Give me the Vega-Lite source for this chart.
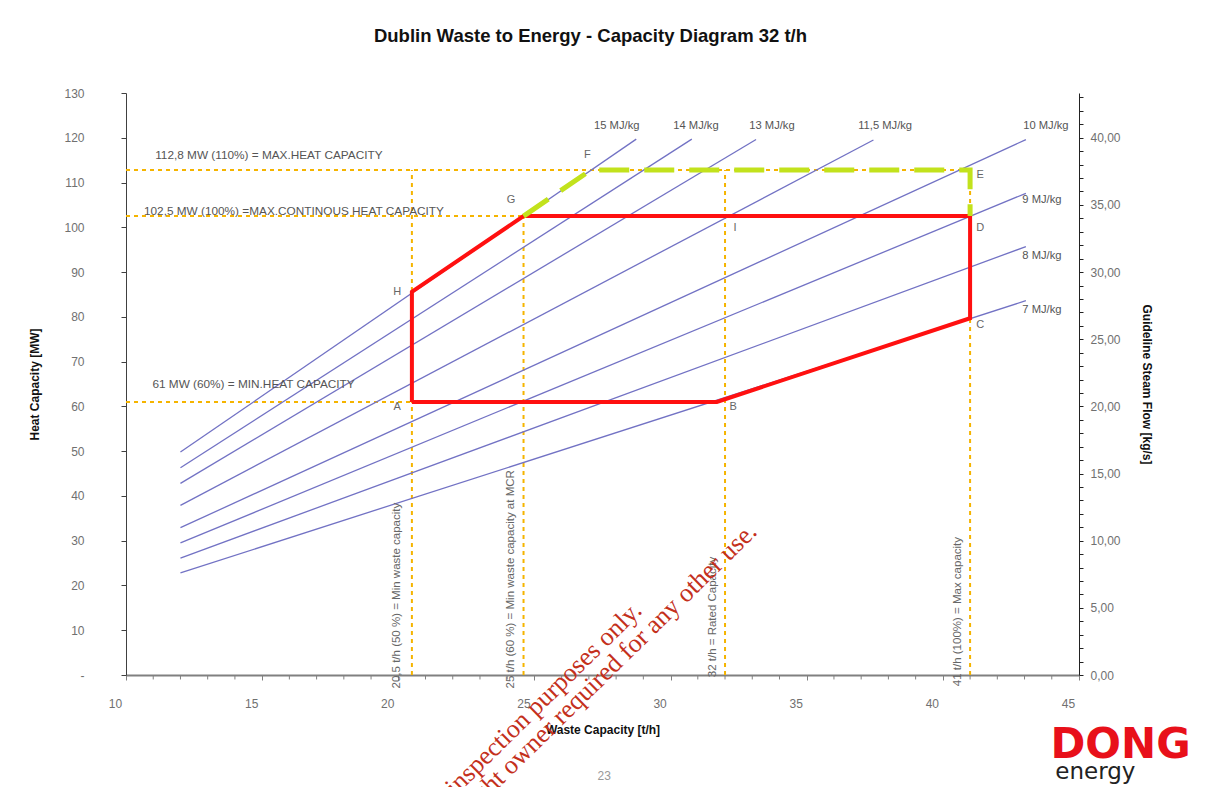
{
  "$schema": "https://vega.github.io/schema/vega-lite/v6.json",
  "width": 953,
  "height": 582,
  "autosize": {"type": "none"},
  "padding": {"left": 126, "top": 93, "right": 144, "bottom": 112},
  "background": "white",
  "title": {"text": "Dublin Waste to Energy - Capacity Diagram 32 t/h", "font": "Liberation Sans", "fontSize": 18.5, "fontWeight": "bold", "color": "#111111", "offset": 42, "dx": -12},
  "config": {"view": {"stroke": null}, "font": "Liberation Sans", "axis": {"labelOverlap": false, "labelFlush": false, "grid": false}},
  "datasets": {
    "guides": [
      {"waste": 10, "waste_end": 41, "heat": 112.8, "heat_end": 112.8},
      {"waste": 10, "waste_end": 24.6, "heat": 102.5, "heat_end": 102.5},
      {"waste": 10, "waste_end": 20.5, "heat": 61, "heat_end": 61},
      {"waste": 20.5, "waste_end": 20.5, "heat": 0, "heat_end": 112.8},
      {"waste": 24.6, "waste_end": 24.6, "heat": 0, "heat_end": 102.5},
      {"waste": 32, "waste_end": 32, "heat": 0, "heat_end": 112.8},
      {"waste": 41, "waste_end": 41, "heat": 0, "heat_end": 112.8}
    ],
    "minorticks": [
      {"waste": 11}, {"waste": 12}, {"waste": 13}, {"waste": 14}, {"waste": 16}, {"waste": 17}, {"waste": 18}, {"waste": 19},
      {"waste": 21}, {"waste": 22}, {"waste": 23}, {"waste": 24}, {"waste": 26}, {"waste": 27}, {"waste": 28}, {"waste": 29},
      {"waste": 31}, {"waste": 32}, {"waste": 33}, {"waste": 34}, {"waste": 36}, {"waste": 37}, {"waste": 38}, {"waste": 39},
      {"waste": 41}, {"waste": 42}, {"waste": 43}, {"waste": 44}
    ],
    "cv": [
      {"lhv": "15 MJ/kg", "waste": 12.0, "heat": 49.8},
      {"lhv": "15 MJ/kg", "waste": 28.74, "heat": 119.7},
      {"lhv": "14 MJ/kg", "waste": 12.0, "heat": 46.3},
      {"lhv": "14 MJ/kg", "waste": 30.78, "heat": 119.7},
      {"lhv": "13 MJ/kg", "waste": 12.0, "heat": 42.8},
      {"lhv": "13 MJ/kg", "waste": 33.14, "heat": 119.6},
      {"lhv": "11,5 MJ/kg", "waste": 12.0, "heat": 37.9},
      {"lhv": "11,5 MJ/kg", "waste": 37.45, "heat": 119.5},
      {"lhv": "10 MJ/kg", "waste": 12.0, "heat": 32.9},
      {"lhv": "10 MJ/kg", "waste": 43.05, "heat": 119.6},
      {"lhv": "9 MJ/kg", "waste": 12.0, "heat": 29.5},
      {"lhv": "9 MJ/kg", "waste": 43.05, "heat": 107.6},
      {"lhv": "8 MJ/kg", "waste": 12.0, "heat": 26.1},
      {"lhv": "8 MJ/kg", "waste": 43.05, "heat": 95.7},
      {"lhv": "7 MJ/kg", "waste": 12.0, "heat": 22.8},
      {"lhv": "7 MJ/kg", "waste": 43.05, "heat": 83.6}
    ],
    "cvlabels": [
      {"label": "15 MJ/kg", "waste": 27.19, "heat": 122.6},
      {"label": "14 MJ/kg", "waste": 30.1, "heat": 122.6},
      {"label": "13 MJ/kg", "waste": 32.89, "heat": 122.6},
      {"label": "11,5 MJ/kg", "waste": 36.89, "heat": 122.6},
      {"label": "10 MJ/kg", "waste": 42.95, "heat": 122.6},
      {"label": "9  MJ/kg", "waste": 42.92, "heat": 106.0},
      {"label": "8  MJ/kg", "waste": 42.92, "heat": 93.5},
      {"label": "7  MJ/kg", "waste": 42.92, "heat": 81.5}
    ],
    "envelope": [
      {"seq": 1, "waste": 20.5, "heat": 61},
      {"seq": 2, "waste": 20.5, "heat": 85.6},
      {"seq": 3, "waste": 24.6, "heat": 102.5},
      {"seq": 4, "waste": 41, "heat": 102.5},
      {"seq": 5, "waste": 41, "heat": 79.7},
      {"seq": 6, "waste": 31.7, "heat": 61},
      {"seq": 7, "waste": 20.5, "heat": 61}
    ],
    "overload": [
      {"seq": 1, "waste": 24.6, "heat": 102.5},
      {"seq": 2, "waste": 27.07, "heat": 112.8},
      {"seq": 3, "waste": 41, "heat": 112.8},
      {"seq": 4, "waste": 41, "heat": 102.5}
    ],
    "points": [
      {"label": "A", "waste": 19.96, "heat": 59.8},
      {"label": "B", "waste": 32.3, "heat": 59.8},
      {"label": "C", "waste": 41.37, "heat": 78.1},
      {"label": "D", "waste": 41.37, "heat": 99.8},
      {"label": "E", "waste": 41.37, "heat": 111.6},
      {"label": "F", "waste": 26.94, "heat": 116.1},
      {"label": "G", "waste": 24.14, "heat": 106.05},
      {"label": "H", "waste": 19.96, "heat": 85.5},
      {"label": "I", "waste": 32.37, "heat": 99.8}
    ],
    "hnotes": [
      {"text": "112,8 MW (110%)  = MAX.HEAT CAPACITY", "waste": 11.07, "heat": 116.1},
      {"text": "102,5 MW (100%) =MAX.CONTINOUS HEAT CAPACITY", "waste": 10.66, "heat": 103.7},
      {"text": "61 MW (60%)  = MIN.HEAT CAPACITY", "waste": 10.97, "heat": 65.0}
    ],
    "vnotes": [
      {"text": "20,5 t/h (50 %) = Min waste capacity", "waste": 19.96, "heat": -3.0},
      {"text": "25 t/h (60 %) = Min waste capacity at MCR", "waste": 24.15, "heat": -3.0},
      {"text": "32 t/h = Rated Capacity", "waste": 31.55, "heat": -0.5},
      {"text": "41 t/h (100%) = Max capacity", "waste": 40.55, "heat": -2.5}
    ],
    "watermark": [
      {"text": "For inspection purposes only.", "waste": 28.99, "heat": 14.07},
      {"text": "Consent of copyright owner required for any other use.", "waste": 33.22, "heat": 31.7}
    ],
    "page": [{"text": "23", "waste": 27.56, "heat": -22.5}],
    "logo1": [{"text": "DONG", "waste": 43.95, "heat": -18.5}],
    "logo2": [{"text": "energy", "waste": 44.13, "heat": -23.2}]
  },
  "layer": [
    {
      "layer": [
        {
          "data": {"name": "guides"},
          "mark": {"type": "rule", "color": "#f5b400", "strokeWidth": 2, "strokeDash": [4, 4]},
          "encoding": {
            "x": {"field": "waste", "type": "quantitative", "scale": {"domain": [10, 45], "nice": false, "zero": false},
              "axis": {"title": "Waste Capacity [t/h]", "values": [10, 15, 20, 25, 30, 35, 40, 45],
                "format": "d", "labelFont": "Liberation Sans", "labelFontSize": 12, "labelColor": "#707070", "labelPadding": 18, "labelOffset": -11,
                "tickSize": 5, "tickColor": "#808080", "domainColor": "#808080", "domainWidth": 2, "titleFont": "Liberation Sans", "titleFontSize": 12, "titleFontWeight": "bold", "titleColor": "#111111", "titlePadding": 15, "grid": false, "labelOverlap": false, "labelFlush": false}},
            "x2": {"field": "waste_end"},
            "y": {"field": "heat", "type": "quantitative", "scale": {"domain": [0, 130], "nice": false},
              "axis": {"title": "Heat Capacity [MW]", "values": [0,5,10,15,20,25,30,35,40,45,50,55,60,65,70,75,80,85,90,95,100,105,110,115,120,125,130],
                "labelExpr": "datum.value === 0 ? '-' : (datum.value % 10 === 0 ? datum.label : '')", "labelFont": "Liberation Sans", "labelFontSize": 12, "labelColor": "#707070", "labelPadding": 37,
                "tickSize": 5, "tickColor": "#404040", "domainColor": "#404040", "titleFont": "Liberation Sans", "titleFontSize": 12, "titleFontWeight": "bold", "titleColor": "#111111", "titlePadding": 22, "grid": false, "labelOverlap": false, "labelFlush": false}},
            "y2": {"field": "heat_end"}
          }
        },
        {
          "data": {"name": "minorticks"},
          "mark": {"type": "rule", "color": "#808080", "strokeWidth": 1},
          "encoding": {
            "x": {"field": "waste", "type": "quantitative"},
            "y": {"datum": 0, "type": "quantitative"},
            "y2": {"datum": -1.0}
          }
        },
        {
          "data": {"name": "cv"},
          "mark": {"type": "line", "color": "#7272c4", "strokeWidth": 1.3},
          "encoding": {
            "x": {"field": "waste", "type": "quantitative"},
            "y": {"field": "heat", "type": "quantitative"},
            "detail": {"field": "lhv"}
          }
        },
        {
          "data": {"name": "cvlabels"},
          "mark": {"type": "text", "align": "left", "baseline": "middle", "fontSize": 11.2, "color": "#555555"},
          "encoding": {
            "x": {"field": "waste", "type": "quantitative"},
            "y": {"field": "heat", "type": "quantitative"},
            "text": {"field": "label"}
          }
        },
        {
          "data": {"name": "envelope"},
          "mark": {"type": "line", "color": "#ff1010", "strokeWidth": 4, "strokeJoin": "miter"},
          "encoding": {
            "x": {"field": "waste", "type": "quantitative"},
            "y": {"field": "heat", "type": "quantitative"},
            "order": {"field": "seq"}
          }
        },
        {
          "data": {"name": "overload"},
          "mark": {"type": "line", "color": "#c2e21c", "strokeWidth": 5, "strokeDash": [30, 15], "strokeCap": "butt"},
          "encoding": {
            "x": {"field": "waste", "type": "quantitative"},
            "y": {"field": "heat", "type": "quantitative"},
            "order": {"field": "seq"}
          }
        },
        {
          "data": {"name": "points"},
          "mark": {"type": "text", "align": "center", "baseline": "middle", "fontSize": 11, "color": "#666666"},
          "encoding": {
            "x": {"field": "waste", "type": "quantitative"},
            "y": {"field": "heat", "type": "quantitative"},
            "text": {"field": "label"}
          }
        },
        {
          "data": {"name": "hnotes"},
          "mark": {"type": "text", "align": "left", "baseline": "middle", "fontSize": 11.8, "color": "#555555"},
          "encoding": {
            "x": {"field": "waste", "type": "quantitative"},
            "y": {"field": "heat", "type": "quantitative"},
            "text": {"field": "text"}
          }
        },
        {
          "data": {"name": "vnotes"},
          "mark": {"type": "text", "align": "left", "baseline": "middle", "angle": 270, "fontSize": 11.5, "color": "#666666"},
          "encoding": {
            "x": {"field": "waste", "type": "quantitative"},
            "y": {"field": "heat", "type": "quantitative"},
            "text": {"field": "text"}
          }
        },
        {
          "data": {"name": "watermark"},
          "mark": {"type": "text", "align": "right", "baseline": "alphabetic", "angle": 315.5, "font": "Liberation Serif", "fontSize": 26, "color": "#c4301c"},
          "encoding": {
            "x": {"field": "waste", "type": "quantitative"},
            "y": {"field": "heat", "type": "quantitative"},
            "text": {"field": "text"}
          }
        },
        {
          "data": {"name": "page"},
          "mark": {"type": "text", "align": "center", "baseline": "middle", "fontSize": 12, "color": "#999999"},
          "encoding": {
            "x": {"field": "waste", "type": "quantitative"},
            "y": {"field": "heat", "type": "quantitative"},
            "text": {"field": "text"}
          }
        },
        {
          "data": {"name": "logo1"},
          "mark": {"type": "text", "align": "left", "baseline": "alphabetic", "fontSize": 42, "fontWeight": "bold", "font": "DejaVu Sans", "color": "#e8101a"},
          "encoding": {
            "x": {"field": "waste", "type": "quantitative"},
            "y": {"field": "heat", "type": "quantitative"},
            "text": {"field": "text"}
          }
        },
        {
          "data": {"name": "logo2"},
          "mark": {"type": "text", "align": "left", "baseline": "alphabetic", "fontSize": 23, "font": "DejaVu Sans", "color": "#222222"},
          "encoding": {
            "x": {"field": "waste", "type": "quantitative"},
            "y": {"field": "heat", "type": "quantitative"},
            "text": {"field": "text"}
          }
        }
      ]
    },
    {
      "data": {"values": [{"steam": 0}, {"steam": 43.333}]},
      "mark": {"type": "point", "opacity": 0},
      "encoding": {
        "y": {"field": "steam", "type": "quantitative", "scale": {"domain": [0, 43.333], "nice": false},
          "axis": {"orient": "right", "title": "Guideline Steam Flow [kg/s]", "values": [0,1,2,3,4,5,6,7,8,9,10,11,12,13,14,15,16,17,18,19,20,21,22,23,24,25,26,27,28,29,30,31,32,33,34,35,36,37,38,39,40,41,42,43],
            "labelExpr": "datum.value % 5 === 0 ? replace(format(datum.value, '.2f'), '.', ',') : ''", "labelFont": "Liberation Sans", "labelFontSize": 12, "labelColor": "#707070", "labelPadding": 7,
            "tickSize": 4, "tickColor": "#222222", "domainColor": "#222222", "titleFont": "Liberation Sans", "titleFontSize": 12, "titleFontWeight": "bold", "titleColor": "#111111", "titlePadding": 19, "grid": false, "labelOverlap": false, "labelFlush": false}}
      }
    }
  ],
  "resolve": {"scale": {"y": "independent"}}
}
